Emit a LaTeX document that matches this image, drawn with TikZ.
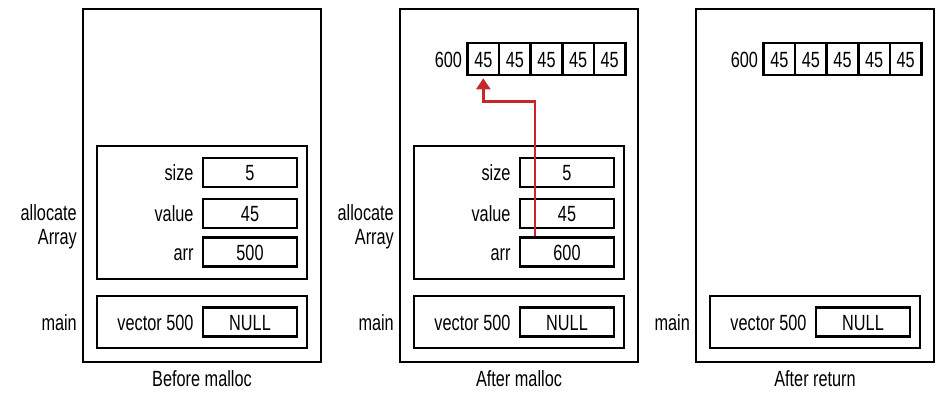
\documentclass[tikz,border=0pt]{standalone}
\usepackage{fontspec}
\setmainfont{Liberation Sans}[FakeStretch=0.74]
\usetikzlibrary{arrows.meta}
\definecolor{ptrred}{RGB}{200,38,42}
\begin{document}
\begin{tikzpicture}[x=1pt,y=-1pt,
  every node/.style={font=\fontsize{22pt}{24pt}\selectfont},
  frame/.style={draw,line width=2.6pt,minimum width=238pt,minimum height=353pt,inner sep=0pt},
  fbox/.style={draw,line width=2.6pt,minimum width=210pt,inner sep=0pt},
  vbox/.style={draw,line width=2.6pt,minimum width=94pt,minimum height=29pt,inner sep=0pt,text height=16pt,text depth=0pt},
  cell/.style={draw,line width=2.6pt,minimum width=31.6pt,minimum height=32pt,inner sep=0pt,text height=16pt,text depth=0pt},
  lbl/.style={anchor=east,inner sep=0pt,text height=16pt,text depth=0pt},
  grp/.style={anchor=east,align=right,inner sep=0pt},
  captext/.style={anchor=base,inner sep=0pt},
  ptr/.style={draw=ptrred,line width=2.4pt,-{Triangle[width=14pt,length=11pt]},shorten >=2pt}
]
\useasboundingbox (0,0) rectangle (950,402);

% ---------- Panel 1: Before malloc ----------
\node[frame] (f1) at (202,185.5) {};
\node[fbox,minimum height=133pt] (a1) at (202,212.5) {};
\node[fbox,minimum height=52pt] (m1) at (202,322) {};
\node[vbox] (s1) at (250,172.5) {5};
\node[vbox] (v1) at (250,213.5) {45};
\node[vbox] (r1) at (250,252) {500};
\node[vbox] (n1) at (250,322) {NULL};
\node[lbl] (sl1) at ([xshift=-8pt]s1.west) {size};
\node[lbl] (vl1) at ([xshift=-8pt]v1.west) {value};
\node[lbl] (rl1) at ([xshift=-8pt]r1.west) {arr};
\node[lbl] (nl1) at ([xshift=-8pt]n1.west) {vector 500};
\node[grp] (al1) at (77,227) {allocate\\Array};
\node[lbl] (ml1) at (77,322) {main};
\node[captext] (c1) at (202,386.5) {Before malloc};

% ---------- Panel 2: After malloc ----------
\begin{scope}[xshift=317pt]
\node[frame] (f2) at (202,185.5) {};
\node[fbox,minimum height=133pt] (a2) at (202,212.5) {};
\node[fbox,minimum height=52pt] (m2) at (202,322) {};
\node[vbox] (s2) at (250,172.5) {5};
\node[vbox] (v2) at (250,213.5) {45};
\node[vbox] (r2) at (250,252) {600};
\node[vbox] (n2) at (250,322) {NULL};
\node[lbl] (sl2) at ([xshift=-8pt]s2.west) {size};
\node[lbl] (vl2) at ([xshift=-8pt]v2.west) {value};
\node[lbl] (rl2) at ([xshift=-8pt]r2.west) {arr};
\node[lbl] (nl2) at ([xshift=-8pt]n2.west) {vector 500};
\node[grp] (al2) at (77,227) {allocate\\Array};
\node[lbl] (ml2) at (77,322) {main};
\node[captext] (c2) at (202,386.5) {After malloc};
\node[cell] (h21) at (166.3,59) {45};
\node[cell] (h22) at (197.9,59) {45};
\node[cell] (h23) at (229.5,59) {45};
\node[cell] (h24) at (261.1,59) {45};
\node[cell] (h25) at (292.7,59) {45};
\node[lbl] (hl2) at ([xshift=-4pt]h21.west) {600};
\end{scope}

% ---------- Panel 3: After return ----------
\begin{scope}[xshift=613pt]
\node[frame] (f3) at (202,185.5) {};
\node[fbox,minimum height=52pt] (m3) at (202,322) {};
\node[vbox] (n3) at (250,322) {NULL};
\node[lbl] (nl3) at ([xshift=-8pt]n3.west) {vector 500};
\node[lbl] (ml3) at (77,322) {main};
\node[captext] (c3) at (202,386.5) {After return};
\node[cell] (h31) at (166.3,59) {45};
\node[cell] (h32) at (197.9,59) {45};
\node[cell] (h33) at (229.5,59) {45};
\node[cell] (h34) at (261.1,59) {45};
\node[cell] (h35) at (292.7,59) {45};
\node[lbl] (hl3) at ([xshift=-4pt]h31.west) {600};
\end{scope}

% ---------- pointer arr -> heap ----------
\draw[ptr] ([xshift=-32pt]r2.north) |- ([yshift=-25pt]h21.south) -- (h21.south);
\end{tikzpicture}
\end{document}
